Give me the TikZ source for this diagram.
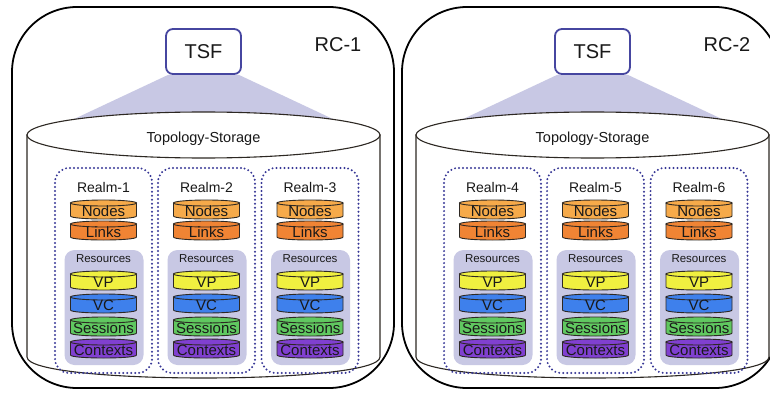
\documentclass[tikz,border=0pt]{standalone}
\usepackage{fontspec}
\setmainfont{Liberation Sans}
\usetikzlibrary{backgrounds}

\definecolor{tsfblue}{RGB}{70,70,160}
\definecolor{realmblue}{RGB}{55,55,150}
\definecolor{lav}{RGB}{200,200,228}
\definecolor{nodecol}{RGB}{246,170,74}
\definecolor{linkcol}{RGB}{240,132,52}
\definecolor{vpcol}{RGB}{240,240,64}
\definecolor{vccol}{RGB}{62,128,236}
\definecolor{sescol}{RGB}{96,200,96}
\definecolor{ctxcol}{RGB}{128,64,208}
\definecolor{cylline}{RGB}{45,40,35}
\definecolor{txt}{RGB}{25,25,25}

% small stacked storage cylinder: name, centre x, top y, fill, label
\newcommand\minicyl[5]{%
  \path[draw=cylline, line width=0.9pt, fill=#4]
    ({#2-33},{#3+3}) -- ({#2-33},{#3+16})
    .. controls ({#2-33},{#3+20}) and ({#2+33},{#3+20}) .. ({#2+33},{#3+16})
    -- ({#2+33},{#3+3}) -- cycle;
  \path[draw=cylline, line width=0.9pt, fill=#4] (#2,{#3+3}) ellipse[x radius=33pt, y radius=3pt];
  \node[cyltext] (#1) at (#2,{#3+11}) {#5};
}

\begin{document}
\begin{tikzpicture}[x=1pt,y=-1pt,
  rcbox/.style={draw=black, line width=1.8pt, rounded corners=65pt},
  tsfbox/.style={draw=tsfblue, line width=1.8pt, fill=white, rounded corners=7pt,
    minimum width=75pt, minimum height=45pt, inner sep=0pt, text=txt,
    font=\fontsize{20}{20}\selectfont},
  rclabel/.style={text=txt, inner sep=0pt, font=\fontsize{20}{20}\selectfont},
  storelabel/.style={text=txt, inner sep=0pt, font=\fontsize{14.5}{15}\selectfont},
  realmbox/.style={draw=realmblue, line width=2.2pt, dash pattern=on 0pt off 4pt,
    line cap=round, rounded corners=14pt, minimum width=97pt, minimum height=205pt, inner sep=0pt},
  realmlabel/.style={text=txt, inner sep=0pt, font=\fontsize{14}{14}\selectfont},
  respanel/.style={fill=lav, rounded corners=10pt, minimum width=79pt, minimum height=115pt, inner sep=0pt},
  reslabel/.style={text=txt, inner sep=0pt, font=\fontsize{11.5}{12}\selectfont},
  cyltext/.style={text=txt, inner sep=0pt, font=\fontsize{15}{15}\selectfont}
]
\useasboundingbox (0,0) rectangle (770,393);
\begin{scope}[on background layer]
  \fill[white] (0,0) rectangle (770,393);
\end{scope}

% the two routing controllers
\draw[rcbox] (12,7) rectangle (394,388);
\draw[rcbox] (402,7) rectangle (780,388);

\foreach \p/\dx in {1/0, 2/389} {
  \begin{scope}[xshift=\dx pt]
    \node[rclabel] (rc\p) at (338,45) {RC-\p};
    \node[tsfbox] (tsf\p) at (203.5,51.5) {TSF};
    \begin{scope}[on background layer]
      \fill[lav] ([xshift=3pt]tsf\p.south west) -- (55,128) -- (352,128)
        -- ([xshift=-3pt]tsf\p.south east) -- cycle;
    \end{scope}
    % topology storage drum
    \path[draw=cylline, line width=1.1pt, fill=white]
      (27,135) -- (27,357) .. controls (27,385) and (380,385) .. (380,357)
      -- (380,135) -- cycle;
    \path[draw=cylline, line width=1.1pt, fill=white] (203.5,135) ellipse[x radius=176.5pt, y radius=23pt];
    \node[storelabel] (store\p) at (203.5,139) {Topology-Storage};
    % realms
    \foreach \r/\c in {1/103.5, 2/206.5, 3/310} {
      \pgfmathtruncatemacro\rn{\r+3*(\p-1)}
      \node[realmbox] (realm\rn) at (\c,270.5) {};
      \node[realmlabel] (realm\rn-title) at (\c,187) {Realm-\rn};
      \minicyl{nodes\rn}{\c}{200}{nodecol}{Nodes}
      \minicyl{links\rn}{\c}{221}{linkcol}{Links}
      \node[respanel] (res\rn) at ({\c+0.5},307.5) {};
      \node[reslabel] (res\rn-title) at (\c,259) {Resources};
      \minicyl{vp\rn}{\c}{271}{vpcol}{VP}
      \minicyl{vc\rn}{\c}{294}{vccol}{VC}
      \minicyl{ses\rn}{\c}{317}{sescol}{Sessions}
      \minicyl{ctx\rn}{\c}{339}{ctxcol}{Contexts}
    }
  \end{scope}
}
\end{tikzpicture}
\end{document}
